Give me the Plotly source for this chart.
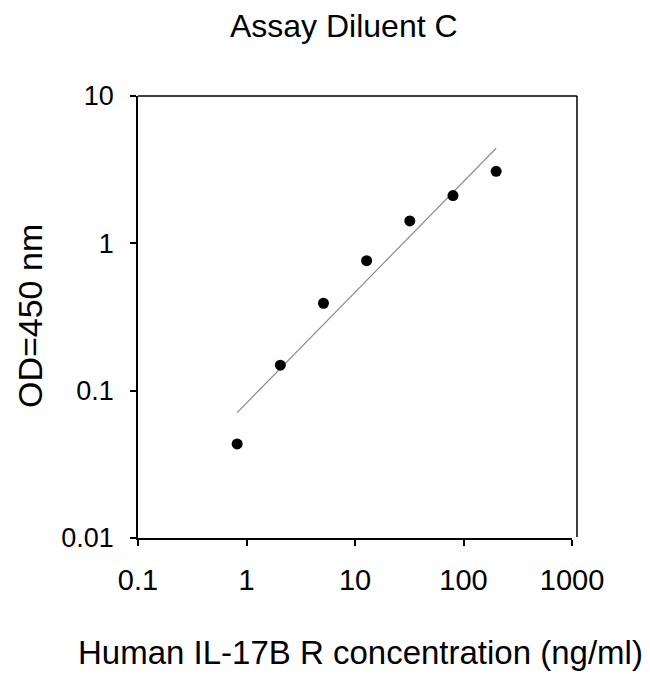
import plotly.graph_objects as go

# standard curve readings (log-log)
conc = [0.82, 2.05, 5.12, 12.8, 32, 80, 200]
od = [0.0435, 0.149, 0.392, 0.763, 1.42, 2.11, 3.08]

# fitted line end points
fit_x = [0.82, 200]
fit_y = [0.071, 4.42]

x_ticks = [0.1, 1, 10, 100, 1000]
x_tick_text = ['0.1', '1', '10', '100', '1000']
y_ticks = [0.01, 0.1, 1, 10]
y_tick_text = ['0.01', '0.1', '1', '10']

font_family = "Arial, Liberation Sans, sans-serif"

fig = go.Figure()

fig.add_trace(go.Scatter(
    x=fit_x,
    y=fit_y,
    mode='lines',
    line=dict(color='#8c8c8c', width=1.2),
    showlegend=False,
))

fig.add_trace(go.Scatter(
    x=conc,
    y=od,
    mode='markers',
    marker=dict(size=11, color='black'),
    showlegend=False,
))

axis_style = dict(
    type='log',
    showgrid=False,
    zeroline=False,
    showline=True,
    linecolor='black',
    linewidth=1.5,
    ticks='outside',
    ticklen=6,
    tickwidth=1.5,
    tickcolor='black',
    mirror=False,
)

fig.update_xaxes(
    **axis_style,
    range=[-1, 3],
    tickvals=x_ticks,
    ticktext=x_tick_text,
    tickfont=dict(family=font_family, size=29, color='black'),
    ticklabelstandoff=9,
)
fig.update_yaxes(
    **axis_style,
    range=[-2, 1],
    tickvals=y_ticks,
    ticktext=y_tick_text,
    tickfont=dict(family=font_family, size=27, color='black'),
    ticklabelstandoff=11,
)

# top and right border of the frame
fig.add_shape(type='line', xref='x domain', yref='y domain',
              x0=0, x1=1.0115, y0=1, y1=1,
              line=dict(color='black', width=1.5))
fig.add_shape(type='line', xref='x domain', yref='y domain',
              x0=1.0115, x1=1.0115, y0=0.002, y1=1,
              line=dict(color='black', width=1.5))

fig.add_annotation(
    text='Human IL-17B R concentration (ng/ml)',
    xref='paper', yref='paper', x=0.512, y=-0.258,
    showarrow=False, xanchor='center', yanchor='middle',
    font=dict(family=font_family, size=33, color='black'),
)
fig.add_annotation(
    text='OD=450 nm',
    xref='paper', yref='paper', x=-0.249, y=0.502,
    showarrow=False, textangle=-90, xanchor='center', yanchor='middle',
    font=dict(family=font_family, size=34, color='black'),
)

# page body adds 8px offset, so the figure is made 8px smaller
fig.update_layout(
    width=642,
    height=666,
    margin=dict(l=130, r=78, t=88, b=136),
    paper_bgcolor='white',
    plot_bgcolor='white',
    title=dict(
        text='Assay Diluent C',
        x=0.523, xanchor='center',
        y=0.973, yanchor='middle',
        font=dict(family=font_family, size=32, color='black'),
    ),
)

fig.write_html("out.html")
